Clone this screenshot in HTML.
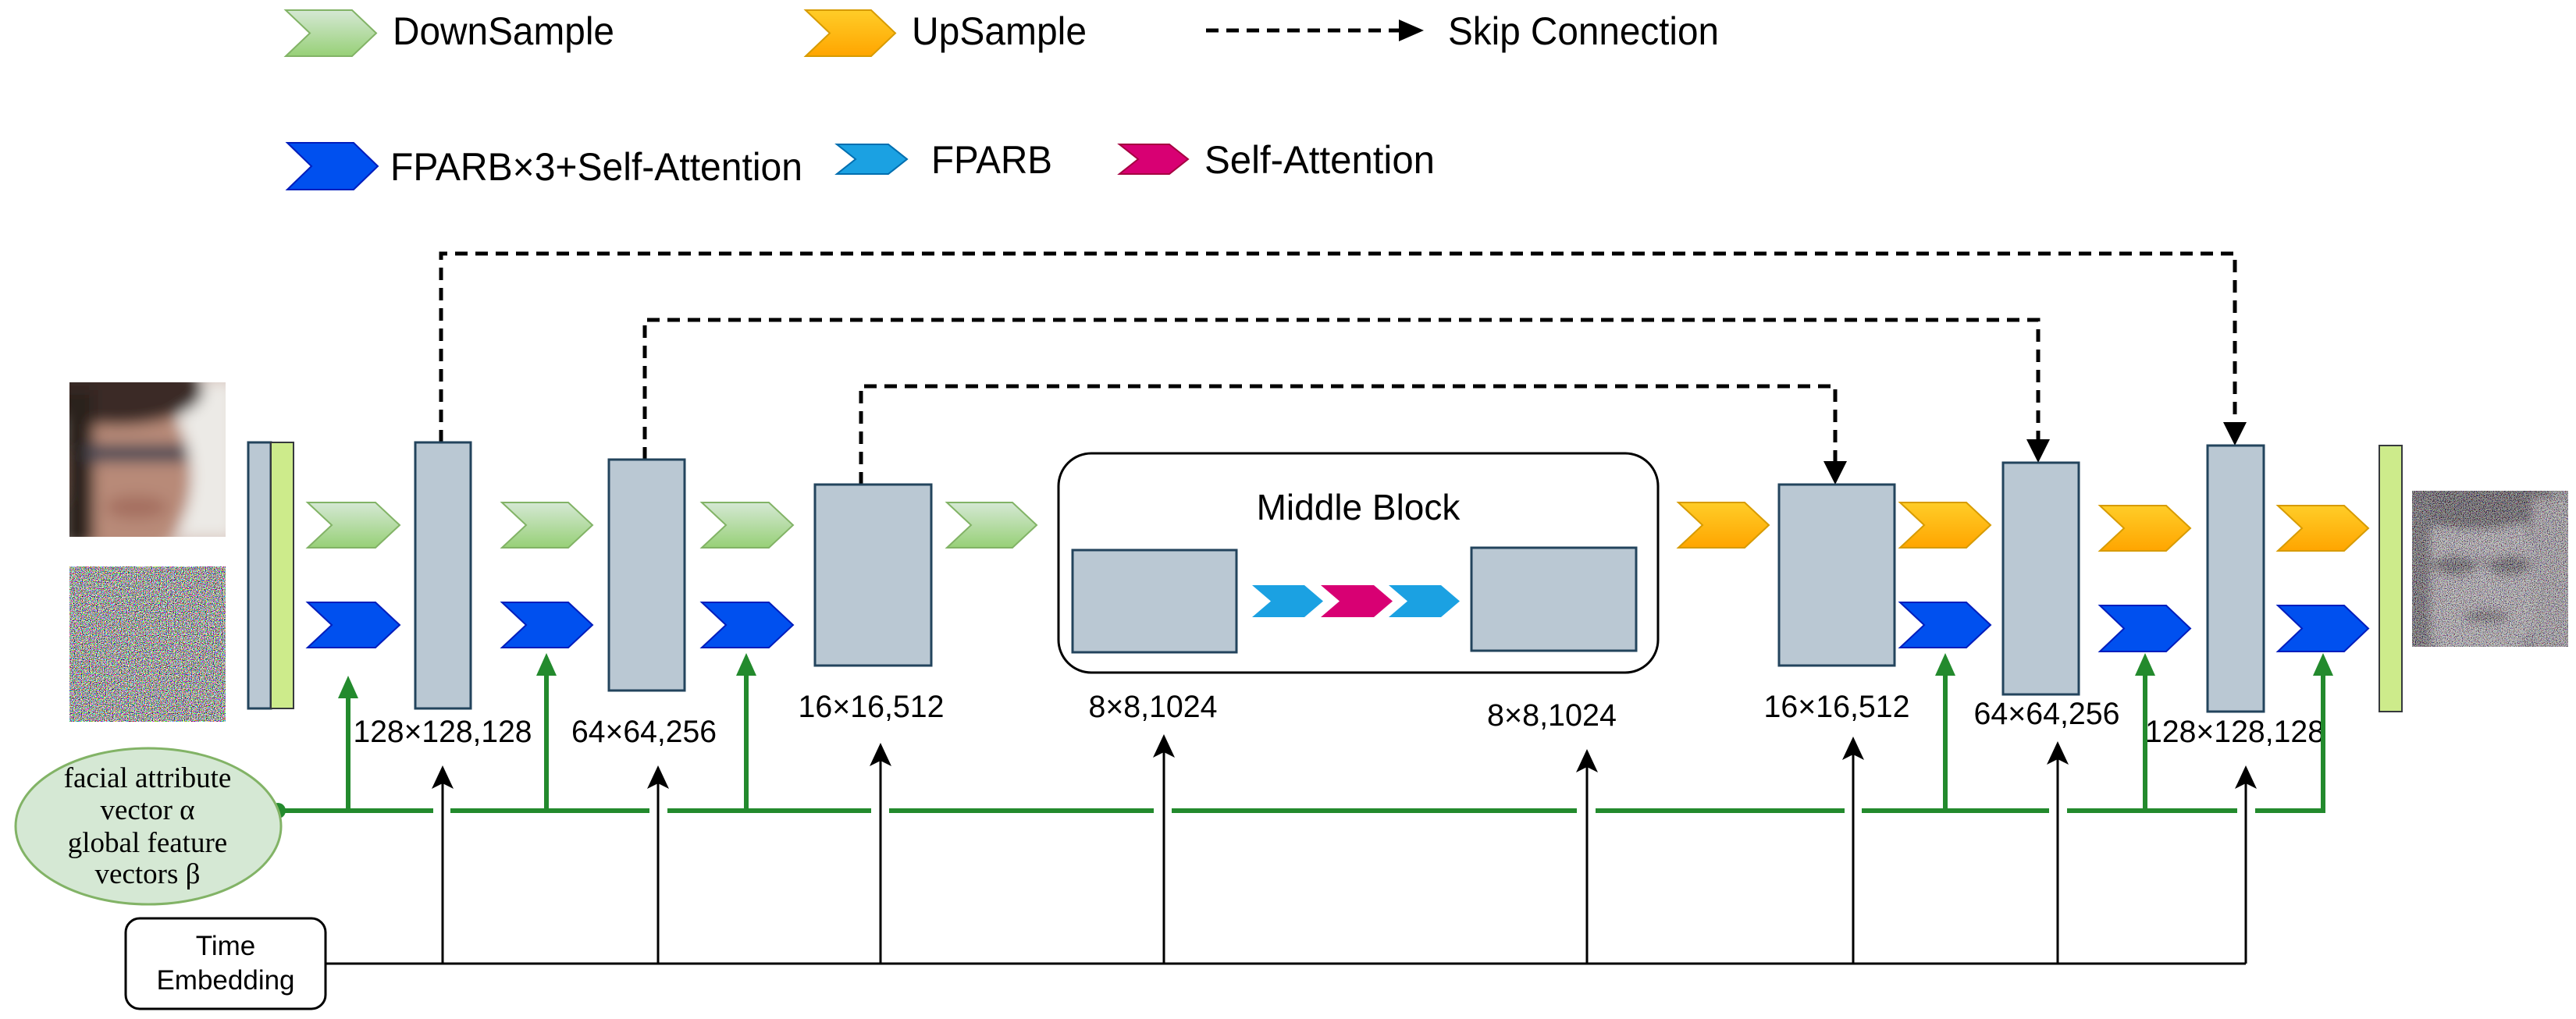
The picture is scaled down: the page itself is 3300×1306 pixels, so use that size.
<!DOCTYPE html>
<html><head><meta charset="utf-8"><style>html,body{margin:0;padding:0;background:#fff}svg{display:block}</style></head>
<body>
<svg width="3300" height="1306" viewBox="0 0 3300 1306" xmlns="http://www.w3.org/2000/svg" font-family="Liberation Sans, sans-serif">
<defs>
<linearGradient id="gg" x1="0" y1="0" x2="0" y2="1"><stop offset="0" stop-color="#d5e8d4"/><stop offset="1" stop-color="#97d077"/></linearGradient>
<linearGradient id="og" x1="0" y1="0" x2="0" y2="1"><stop offset="0" stop-color="#ffcd28"/><stop offset="1" stop-color="#ffa500"/></linearGradient>
<filter id="noise" x="0" y="0" width="100%" height="100%">
<feTurbulence type="fractalNoise" baseFrequency="0.9" numOctaves="1" seed="3"/>
<feComponentTransfer><feFuncR type="linear" slope="6" intercept="-2.5"/><feFuncG type="linear" slope="6" intercept="-2.5"/><feFuncB type="linear" slope="6" intercept="-2.5"/><feFuncA type="linear" slope="0" intercept="1"/></feComponentTransfer>
</filter>
<filter id="gnoise" x="0" y="0" width="100%" height="100%">
<feTurbulence type="fractalNoise" baseFrequency="0.9" numOctaves="1" seed="7"/>
<feColorMatrix type="saturate" values="0.35"/>
<feComponentTransfer><feFuncR type="linear" slope="5" intercept="-2"/><feFuncG type="linear" slope="5" intercept="-2"/><feFuncB type="linear" slope="5" intercept="-2"/><feFuncA type="linear" slope="0" intercept="0.6"/></feComponentTransfer>
</filter>
<filter id="blur"><feGaussianBlur stdDeviation="9"/></filter>
<filter id="blur2"><feGaussianBlur stdDeviation="5"/></filter>
<clipPath id="c1"><rect x="89" y="490" width="200" height="198"/></clipPath>
<clipPath id="c2"><rect x="3090" y="629" width="200" height="200"/></clipPath>
</defs>

<!-- Legend -->
<polygon points="366,13 451,13 482,42.5 451,72 366,72 397,42.5" fill="url(#gg)" stroke="#82b366" stroke-width="2"/>
<text x="503" y="57" font-size="50" textLength="284" lengthAdjust="spacingAndGlyphs">DownSample</text>
<polygon points="1032,13 1116,13 1147,42.5 1116,72 1032,72 1063,42.5" fill="url(#og)" stroke="#d79b00" stroke-width="2"/>
<text x="1168" y="57" font-size="50" textLength="224" lengthAdjust="spacingAndGlyphs">UpSample</text>
<line x1="1545" y1="39" x2="1795" y2="39" stroke="#000" stroke-width="5" stroke-dasharray="16 10"/>
<polygon points="1792,25 1824,39 1792,53" fill="#000"/>
<text x="1855" y="57" font-size="50" textLength="347" lengthAdjust="spacingAndGlyphs">Skip Connection</text>

<polygon points="368,183 453,183 484,213 453,243 368,243 399,213" fill="#0050ef" stroke="#001dbc" stroke-width="2"/>
<text x="500" y="231" font-size="50" textLength="528" lengthAdjust="spacingAndGlyphs">FPARB×3+Self-Attention</text>
<polygon points="1072,185 1138,185 1162,204 1138,223 1072,223 1096,204" fill="#1ba1e2" stroke="#006eaf" stroke-width="2"/>
<text x="1193" y="222" font-size="50" textLength="155" lengthAdjust="spacingAndGlyphs">FPARB</text>
<polygon points="1434,185 1498,185 1522,204 1498,223 1434,223 1458,204" fill="#d80073" stroke="#a50040" stroke-width="2"/>
<text x="1543" y="222" font-size="50" textLength="295" lengthAdjust="spacingAndGlyphs">Self-Attention</text>

<!-- Skip connections -->
<g fill="none" stroke="#000" stroke-width="5" stroke-dasharray="16 10">
<polyline points="565,567 565,325 2863,325 2863,543"/>
<polyline points="826,589 826,410 2611,410 2611,565"/>
<polyline points="1103,621 1103,495 2351,495 2351,593"/>
</g>
<polygon points="2848,541 2878,541 2863,571" fill="#000"/>
<polygon points="2596,563 2626,563 2611,593" fill="#000"/>
<polygon points="2336,591 2366,591 2351,621" fill="#000"/>

<!-- Images -->
<g clip-path="url(#c1)">
<rect x="89" y="490" width="200" height="198" fill="#d8c6bf"/>
<g filter="url(#blur)">
<rect x="230" y="490" width="70" height="198" fill="#eceae6"/>
<ellipse cx="160" cy="610" rx="85" ry="110" fill="#b88a78"/>
<ellipse cx="150" cy="500" rx="110" ry="45" fill="#3a2a26"/>
<rect x="80" y="500" width="40" height="200" fill="#2c211e"/>
<rect x="110" y="570" width="130" height="22" fill="#4a4a55"/>
<ellipse cx="175" cy="650" rx="40" ry="15" fill="#a56f60"/>
</g>
</g>
<rect x="89" y="726" width="200" height="199" filter="url(#noise)"/>

<g clip-path="url(#c2)">
<rect x="3090" y="629" width="200" height="200" fill="#6a6a6a"/>
<g filter="url(#blur2)">
<ellipse cx="3175" cy="750" rx="80" ry="105" fill="#9a9a9a"/>
<ellipse cx="3170" cy="640" rx="100" ry="40" fill="#222"/>
<rect x="3085" y="640" width="30" height="190" fill="#333"/>
<ellipse cx="3145" cy="725" rx="28" ry="14" fill="#333"/>
<ellipse cx="3215" cy="725" rx="28" ry="14" fill="#333"/>
<rect x="3110" y="718" width="140" height="6" fill="#222"/>
<ellipse cx="3185" cy="790" rx="30" ry="10" fill="#444"/>
<rect x="3245" y="640" width="50" height="190" fill="#888"/>
</g>
<rect x="3090" y="629" width="200" height="200" filter="url(#gnoise)"/>
</g>

<!-- Input bar -->
<rect x="318" y="567" width="29" height="341" fill="#bac8d3" stroke="#23445d" stroke-width="3"/>
<rect x="347" y="567" width="29" height="341" fill="#cdeb8b" stroke="#36393d" stroke-width="2"/>
<!-- Output bar -->
<rect x="3048" y="571" width="29" height="341" fill="#cdeb8b" stroke="#36393d" stroke-width="2"/>

<!-- Boxes -->
<g fill="#bac8d3" stroke="#23445d" stroke-width="3">
<rect x="532" y="567" width="71" height="341"/>
<rect x="780" y="589" width="97" height="296"/>
<rect x="1044" y="621" width="149" height="232"/>
<rect x="2279" y="621" width="148" height="232"/>
<rect x="2566" y="593" width="97" height="297"/>
<rect x="2828" y="571" width="72" height="341"/>
</g>

<!-- Middle block -->
<rect x="1356" y="581" width="768" height="281" rx="42" fill="#fff" stroke="#000" stroke-width="3"/>
<text x="1740" y="666" font-size="46" text-anchor="middle">Middle Block</text>
<rect x="1374" y="705" width="210" height="131" fill="#bac8d3" stroke="#23445d" stroke-width="3"/>
<rect x="1885" y="702" width="211" height="132" fill="#bac8d3" stroke="#23445d" stroke-width="3"/>
<polygon points="1604,750 1671,750 1695,770.5 1671,791 1604,791 1628,770.5" fill="#1ba1e2"/>
<polygon points="1692,750 1760,750 1784,770.5 1760,791 1692,791 1716,770.5" fill="#d80073"/>
<polygon points="1779,750 1846,750 1870,770.5 1846,791 1779,791 1803,770.5" fill="#1ba1e2"/>

<!-- Chevrons -->
<g fill="url(#gg)" stroke="#82b366" stroke-width="2">
<polygon points="394,644 481,644 512,673 481,702 394,702 425,673"/>
<polygon points="643,644 728,644 759,673 728,702 643,702 674,673"/>
<polygon points="899,644 985,644 1016,673 985,702 899,702 930,673"/>
<polygon points="1213,644 1297,644 1328,673 1297,702 1213,702 1244,673"/>
</g>
<g fill="#0050ef" stroke="#001dbc" stroke-width="2">
<polygon points="394,772 481,772 512,801 481,830 394,830 425,801"/>
<polygon points="643,772 728,772 759,801 728,830 643,830 674,801"/>
<polygon points="899,772 985,772 1016,801 985,830 899,830 930,801"/>
<polygon points="2434,772 2519,772 2550,801 2519,830 2434,830 2465,801"/>
<polygon points="2690,776 2775,776 2806,805.5 2775,835 2690,835 2721,805.5"/>
<polygon points="2918,776 3003,776 3034,805.5 3003,835 2918,835 2949,805.5"/>
</g>
<g fill="url(#og)" stroke="#d79b00" stroke-width="2">
<polygon points="2150,644 2235,644 2266,673 2235,702 2150,702 2181,673"/>
<polygon points="2434,644 2519,644 2550,673 2519,702 2434,702 2465,673"/>
<polygon points="2690,648 2775,648 2806,677 2775,706 2690,706 2721,677"/>
<polygon points="2918,648 3003,648 3034,677 3003,706 2918,706 2949,677"/>
</g>

<!-- Labels -->
<g font-size="40">
<text x="567" y="951" text-anchor="middle" textLength="229" lengthAdjust="spacingAndGlyphs">128×128,128</text>
<text x="825" y="951" text-anchor="middle" textLength="186" lengthAdjust="spacingAndGlyphs">64×64,256</text>
<text x="1116" y="919" text-anchor="middle" textLength="187" lengthAdjust="spacingAndGlyphs">16×16,512</text>
<text x="1477" y="919" text-anchor="middle" textLength="165" lengthAdjust="spacingAndGlyphs">8×8,1024</text>
<text x="1988" y="930" text-anchor="middle" textLength="166" lengthAdjust="spacingAndGlyphs">8×8,1024</text>
<text x="2353" y="919" text-anchor="middle" textLength="187" lengthAdjust="spacingAndGlyphs">16×16,512</text>
<text x="2622" y="928" text-anchor="middle" textLength="187" lengthAdjust="spacingAndGlyphs">64×64,256</text>
<text x="2863" y="951" text-anchor="middle" textLength="230" lengthAdjust="spacingAndGlyphs">128×128,128</text>
</g>

<!-- Green line -->
<g stroke="#238a2d" stroke-width="6" fill="none">
<polyline points="356,1039 555,1039"/>
<line x1="577" y1="1039" x2="832" y2="1039"/>
<line x1="855" y1="1039" x2="1116" y2="1039"/>
<line x1="1139" y1="1039" x2="1478" y2="1039"/>
<line x1="1501" y1="1039" x2="2020" y2="1039"/>
<line x1="2044" y1="1039" x2="2363" y2="1039"/>
<line x1="2385" y1="1039" x2="2625" y2="1039"/>
<line x1="2648" y1="1039" x2="2866" y2="1039"/>
<line x1="2889" y1="1039" x2="2979" y2="1039"/>
<line x1="446" y1="1039" x2="446" y2="890"/>
<line x1="700" y1="1039" x2="700" y2="861"/>
<line x1="956" y1="1039" x2="956" y2="861"/>
<line x1="2492" y1="1039" x2="2492" y2="861"/>
<line x1="2748" y1="1039" x2="2748" y2="861"/>
<line x1="2976" y1="1042" x2="2976" y2="861"/>
</g>
<circle cx="356" cy="1039" r="10" fill="#238a2d"/>
<g fill="#238a2d">
<polygon points="433,895 446,866 459,895"/>
<polygon points="687,866 700,837 713,866"/>
<polygon points="943,866 956,837 969,866"/>
<polygon points="2479,866 2492,837 2505,866"/>
<polygon points="2735,866 2748,837 2761,866"/>
<polygon points="2963,866 2976,837 2989,866"/>
</g>

<!-- Black lines -->
<g stroke="#000" stroke-width="3" fill="none">
<line x1="417" y1="1235" x2="2877" y2="1235"/>
<line x1="567" y1="1235" x2="567" y2="1000"/>
<line x1="843" y1="1235" x2="843" y2="1000"/>
<line x1="1128" y1="1235" x2="1128" y2="971"/>
<line x1="1491" y1="1235" x2="1491" y2="960"/>
<line x1="2033" y1="1235" x2="2033" y2="979"/>
<line x1="2374" y1="1235" x2="2374" y2="963"/>
<line x1="2636" y1="1235" x2="2636" y2="969"/>
<line x1="2877" y1="1235" x2="2877" y2="1000"/>
</g>
<g fill="#000">
<polygon points="553,1011 567,981 581,1011 567,1004"/>
<polygon points="829,1011 843,981 857,1011 843,1004"/>
<polygon points="1114,982 1128,952 1142,982 1128,975"/>
<polygon points="1477,971 1491,941 1505,971 1491,964"/>
<polygon points="2019,990 2033,960 2047,990 2033,983"/>
<polygon points="2360,974 2374,944 2388,974 2374,967"/>
<polygon points="2622,980 2636,950 2650,980 2636,973"/>
<polygon points="2863,1011 2877,981 2891,1011 2877,1004"/>
</g>

<!-- Ellipse -->
<ellipse cx="190" cy="1059" rx="170" ry="100" fill="#d5e8d4" stroke="#82b366" stroke-width="3"/>
<g font-family="Liberation Serif, serif" font-size="37" text-anchor="middle">
<text x="189" y="1009">facial attribute</text>
<text x="189" y="1050">vector α</text>
<text x="189" y="1092">global feature</text>
<text x="189" y="1132">vectors β</text>
</g>

<!-- Time embedding -->
<rect x="161" y="1177" width="256" height="116" rx="18" fill="#fff" stroke="#000" stroke-width="3"/>
<g font-size="35" text-anchor="middle">
<text x="289" y="1224">Time</text>
<text x="289" y="1268">Embedding</text>
</g>
</svg>
</body></html>
